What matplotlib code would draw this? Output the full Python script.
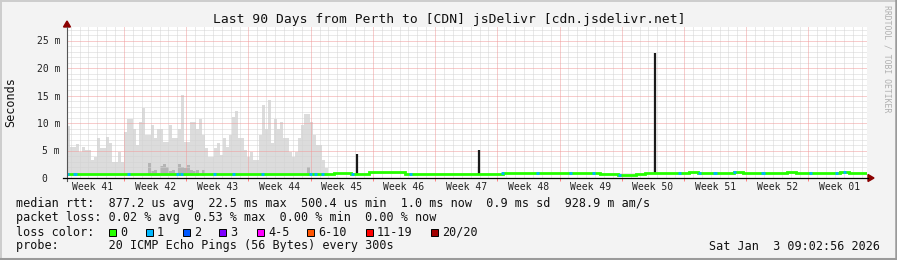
import numpy as np
import matplotlib.pyplot as plt
from matplotlib.lines import Line2D
from matplotlib.patches import Rectangle, Polygon

W, H = 897, 260
plt.rcParams['font.family'] = ['DejaVu Sans Mono']

# ---- data ----
title = "Last 90 Days from Perth to [CDN] jsDelivr [cdn.jsdelivr.net]"
week_labels = ['Week 41', 'Week 42', 'Week 43', 'Week 44', 'Week 45', 'Week 46', 'Week 47',
               'Week 48', 'Week 49', 'Week 50', 'Week 51', 'Week 52', 'Week 01']
first_week_line = 6.41   # days after graph start

# smoke (max ping, in ms) for the first ~29 days, one value per 0.3375 day
smoke_max = [9.5, 5.7, 5.7, 6.1, 4.8, 5.7, 5.1, 5.1, 3.3, 3.9,
             7.2, 5.4, 5.4, 7.5, 6.3, 3.0, 3.0, 4.8, 3.0, 8.4,
             10.8, 10.8, 9.0, 6.0, 10.2, 12.7, 7.8, 7.8, 9.6, 7.2,
             9.0, 9.0, 6.6, 6.6, 9.6, 7.2, 7.2, 9.0, 15.1, 6.6,
             6.6, 10.2, 10.2, 9.0, 10.8, 7.8, 5.4, 3.9, 3.9, 5.4,
             6.3, 4.2, 7.2, 5.7, 7.8, 11.1, 12.1, 7.2, 7.2, 5.1,
             3.9, 4.8, 3.3, 3.3, 7.8, 13.3, 9.0, 14.2, 6.3, 10.8,
             9.0, 10.2, 7.2, 7.2, 4.8, 3.9, 4.8, 7.2, 9.6, 11.7,
             11.7, 10.2, 7.8, 6.0, 6.0, 3.3, 1.8]
smoke_dark = [0, 0, 0, 0, 0, 0, 0, 0, 0, 0,
              0, 0, 0, 0, 0, 0, 0, 0, 0, 0,
              0, 0, 0, 0, 0, 0, 0, 2.8, 1.2, 1.5,
              1.0, 2.2, 2.5, 2.0, 1.2, 1.5, 1.0, 2.6, 2.0, 1.8,
              2.4, 1.5, 1.2, 1.4, 0, 1.5, 0, 0, 0, 0,
              0, 0, 0, 0, 0, 0, 0, 0, 0, 0,
              0, 0, 0, 0, 0, 0, 0, 0, 0, 0,
              0, 0, 0, 0, 0, 0, 0, 0, 0, 0,
              2.0, 0, 0, 0, 0, 0, 0]
smoke_floor = 0.45

# daily median rtt (ms)
median = [0.75, 0.70, 0.68, 0.75, 0.72, 0.75, 0.72, 0.74, 0.73, 0.75,
          0.72, 0.70, 0.74, 0.72, 0.75, 0.72, 0.74, 0.70, 0.72, 0.74,
          0.72, 0.75, 0.73, 0.72, 0.74, 0.72, 0.70, 0.72, 0.70, 0.75,
          0.85, 0.85, 0.75, 0.72, 1.10, 1.15, 1.15, 1.05, 0.75, 0.72,
          0.73, 0.73, 0.74, 0.74, 0.73, 0.75, 0.80, 0.75, 0.80, 1.00,
          1.00, 0.98, 1.00, 1.00, 0.98, 0.95, 0.90, 0.90, 0.88, 0.85,
          0.78, 0.75, 0.60, 0.50, 0.75, 0.90, 0.90, 0.98, 1.00, 1.00,
          1.02, 1.00, 0.98, 1.00, 1.00, 1.02, 1.00, 1.00, 0.98, 1.00,
          1.00, 1.02, 1.00, 1.00, 0.98, 1.00, 1.00, 1.02, 1.00, 1.00]

# days where the median line shows 1/20 loss (blue)
loss1_days = [0.1, 0.9, 6.9, 12.4, 12.9, 16.6, 18.7, 22.0, 27.4, 28.0, 28.7, 32.1,
              38.6, 49.0, 52.9, 56.6, 59.2, 62.2, 68.9, 71.2, 72.9, 75.1, 78.3,
              83.6, 86.6, 87.5]

spike_days = [32.6, 46.4, 66.1]
spike_tops = [4.4, 5.1, 22.8]
thin_days = [46.2, 66.0]
thin_tops = [2.1, 5.1]

legend_rtt = "median rtt:  877.2 us avg  22.5 ms max  500.4 us min  1.0 ms now  0.9 ms sd  928.9 m am/s"
legend_loss = "packet loss: 0.02 % avg  0.53 % max  0.00 % min  0.00 % now"
legend_probe = "probe:       20 ICMP Echo Pings (56 Bytes) every 300s"
stamp = "Sat Jan  3 09:02:56 2026"
loss_labels = ['0', '1', '2', '3', '4-5', '6-10', '11-19', '20/20']
loss_colors = ['#26ff00', '#00b8ff', '#0059ff', '#7e00ff', '#ff00ff', '#ff5500', '#ff0000', '#a10000']

# ---- figure ----
fig = plt.figure(figsize=(W / 100, H / 100), dpi=100, facecolor='#f3f3f3')


def fx(x):
    return x / W


def fy(y):
    return 1 - y / H


ax = fig.add_axes([fx(67), fy(178), 800 / W, 151 / H])
ax.set_facecolor('white')
ax.set_xlim(0, 90)
ax.set_ylim(0, 151 / 5.5)
for s in ax.spines.values():
    s.set_visible(False)

dot = (0, (1, 1))
week_lines = first_week_line + 7 * np.arange(12)
day_lines = first_week_line - 6 + np.arange(90)
for d in day_lines:
    if np.min(np.abs(week_lines - d)) > 0.1:
        ax.axvline(d, color='#d4d4d4', lw=0.72, ls=dot, zorder=2)
for v in range(1, 28):
    if v % 5:
        ax.axhline(v, color='#d4d4d4', lw=0.72, ls=dot, zorder=2)
    else:
        ax.axhline(v, color='#f09a9a', lw=0.72, ls=dot, zorder=2)
for d in week_lines:
    ax.axvline(d, color='#f09a9a', lw=0.72, ls=dot, zorder=2)

# smoke
bw = 90 / 800 * 3
xs = np.arange(len(smoke_max)) * bw
ax.bar(xs, np.array(smoke_max) - smoke_floor, bottom=smoke_floor, width=bw,
       align='edge', color='#dcdcdc', linewidth=0, zorder=1)
sd = np.array(smoke_dark)
ax.bar(xs[sd > 0], sd[sd > 0] - smoke_floor, bottom=smoke_floor, width=bw,
       align='edge', color='#b4b4b4', linewidth=0, zorder=1)

# spikes
for d, t in zip(thin_days, thin_tops):
    ax.vlines(d, median[int(d)], t, color='#1a1a1a', lw=0.8, zorder=3)
for d, t in zip(spike_days, spike_tops):
    ax.vlines(d, median[int(d)], t, color='#1a1a1a', lw=1.6, zorder=3)

# median line
ax.stairs(median, np.arange(len(median) + 1), baseline=None, color='#26ff00', lw=2.0, zorder=4)
for d in loss1_days:
    m = median[int(d)]
    ax.plot([d - 0.17, d + 0.17], [m, m], color='#00b8ff', lw=2.0, zorder=5,
            solid_capstyle='butt')

# ticks
ax.set_yticks([0, 5, 10, 15, 20, 25])
ax.set_yticklabels(['0  ', '5 m', '10 m', '15 m', '20 m', '25 m'])
ax.tick_params(axis='y', length=0, pad=5, labelsize=7, labelcolor='#222222')
ax.set_xticks(week_lines)
ax.set_xticklabels([])
ax.tick_params(axis='x', which='major', length=2, color='#ff8080', width=0.7)
ax.set_xticks(first_week_line - 3.5 + 7 * np.arange(13), labels=week_labels, minor=True)
ax.tick_params(axis='x', which='minor', length=0, pad=3, labelsize=7, labelcolor='#222222')

# axis lines and arrows
fig.add_artist(Line2D([fx(67), fx(67)], [fy(181), fy(27)], color='#555555', lw=0.8))
fig.add_artist(Line2D([fx(63), fx(868)], [fy(178), fy(178)], color='black', lw=0.9))
fig.add_artist(Polygon([[fx(67), fy(21)], [fx(63.5), fy(27)], [fx(70.5), fy(27)]],
                       closed=True, color='#8b0000', transform=fig.transFigure))
fig.add_artist(Polygon([[fx(874), fy(178)], [fx(868), fy(174.5)], [fx(868), fy(181.5)]],
                       closed=True, color='#8b0000', transform=fig.transFigure))

# frame
fig.add_artist(Line2D([0, 1], [fy(1), fy(1)], color='#cccccc', lw=1.4))
fig.add_artist(Line2D([fx(1), fx(1)], [0, 1], color='#cccccc', lw=1.4))
fig.add_artist(Line2D([0, 1], [fy(258.5), fy(258.5)], color='#9a9a9a', lw=2.2))
fig.add_artist(Line2D([fx(895.8), fx(895.8)], [0, 1], color='#9a9a9a', lw=1.8))

# texts
fig.text(fx(449), fy(19), title, ha='center', va='center', size=9.4, color='#111111')
fig.text(fx(11), fy(102), 'Seconds', rotation=90, ha='center', va='center', size=8.5, color='#111111')
fig.text(fx(887), fy(59), 'RRDTOOL / TOBI OETIKER', rotation=270, ha='center', va='center',
         size=5.9, color='#b0b0b0')

fig.text(fx(16), fy(204), legend_rtt, va='center', size=8.5, color='#111111')
fig.text(fx(16), fy(218), legend_loss, va='center', size=8.5, color='#111111')
fig.text(fx(16), fy(232), 'loss color:', va='center', size=8.5, color='#111111')
sq_x = [109, 146, 183, 219, 257, 307, 366, 431]
for x, lab, col in zip(sq_x, loss_labels, loss_colors):
    fig.add_artist(Rectangle((fx(x), fy(236)), 7 / W, 7 / H, facecolor=col,
                             edgecolor='black', lw=0.7, transform=fig.transFigure))
    fig.text(fx(x + 11), fy(232), lab, va='center', size=8.5, color='#111111')
fig.text(fx(16), fy(246), legend_probe, va='center', size=8.5, color='#111111')
fig.text(fx(880), fy(246), stamp, ha='right', va='center', size=8.5, color='#111111')

fig.savefig('out.png', dpi=100, facecolor=fig.get_facecolor())
